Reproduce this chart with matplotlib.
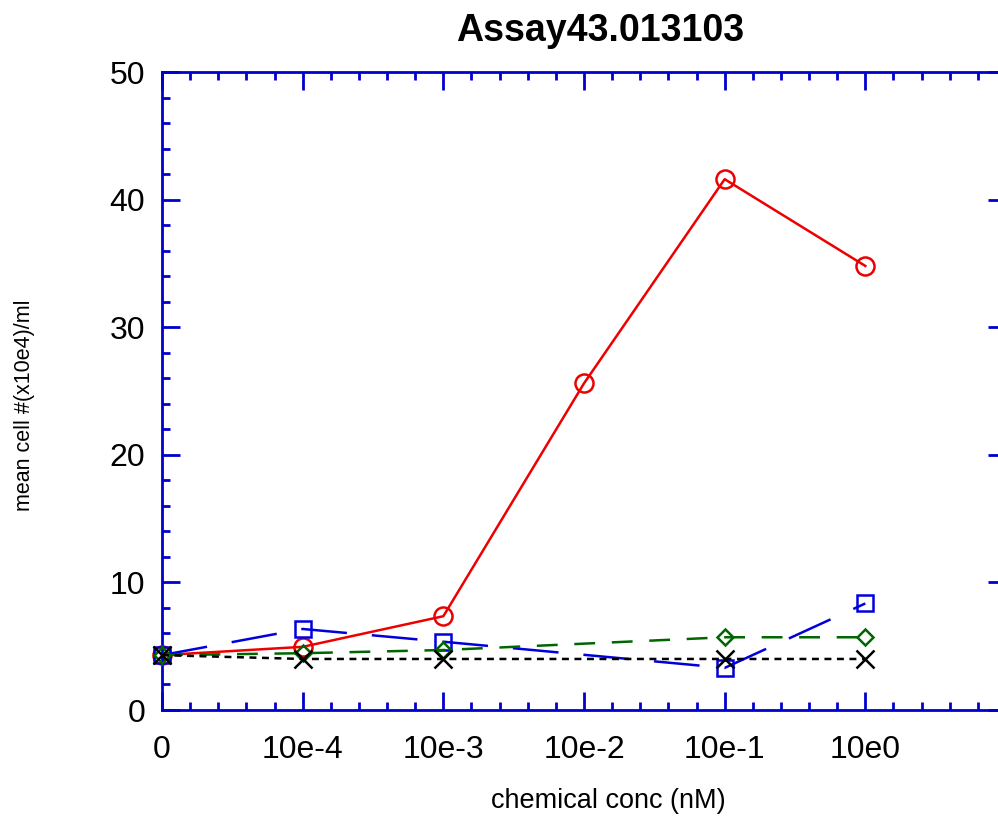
import numpy as np
import matplotlib
matplotlib.use("Agg")
import matplotlib.pyplot as plt
from matplotlib.ticker import MultipleLocator, FixedLocator

plt.rcParams["font.family"] = ["Liberation Sans", "DejaVu Sans"]
plt.rcParams["lines.scale_dashes"] = False

# -----------------------------
# Assay readings (mean cell count, x10e4 / ml)
# x positions are dose slots: 0, 10e-4, 10e-3, 10e-2, 10e-1, 10e0
# -----------------------------
tick_labels = ["0", "10e-4", "10e-3", "10e-2", "10e-1", "10e0"]

red_x = [0, 1, 2, 3, 4, 5]
red_y = [4.3, 4.95, 7.35, 25.6, 41.6, 34.8]

blue_x = [0, 1, 2, 4, 5]
blue_y = [4.3, 6.35, 5.35, 3.3, 8.35]

green_x = [0, 1, 2, 4, 5]
green_y = [4.3, 4.45, 4.7, 5.7, 5.7]

black_x = [0, 1, 2, 4, 5]
black_y = [4.3, 4.0, 4.0, 4.0, 4.0]

AXIS_BLUE = "#0000cc"

fig = plt.figure(figsize=(9.98, 8.18), dpi=100)
ax = fig.add_axes([162 / 998, 108 / 818, (1006 - 162) / 998, (710 - 72) / 818])

ax.plot(red_x, red_y, color="#ee0000", lw=1.8, marker="o", ms=13,
        mfc="none", mew=1.8, clip_on=False, zorder=3)
ax.plot(blue_x, blue_y, color="#0000dd", lw=1.8, dashes=(33, 18), marker="s",
        ms=11.5, mfc="none", mew=1.8, clip_on=False, zorder=3)
ax.plot(green_x, green_y, color="#006600", lw=1.8, dashes=(15, 12), marker="D",
        ms=8.5, mfc="none", mew=1.8, clip_on=False, zorder=3)
ax.plot(black_x, black_y, color="black", lw=1.8, dashes=(5, 4), marker="x",
        ms=12.5, mew=1.8, clip_on=False, zorder=4)

ax.set_xlim(0, 6)
ax.set_ylim(0, 50)

ax.xaxis.set_major_locator(FixedLocator(range(len(tick_labels))))
ax.set_xticklabels(tick_labels)
ax.xaxis.set_minor_locator(MultipleLocator(0.2))
ax.yaxis.set_major_locator(MultipleLocator(10))
ax.yaxis.set_minor_locator(MultipleLocator(2))

for s in ax.spines.values():
    s.set_color(AXIS_BLUE)
    s.set_linewidth(2)

ax.tick_params(which="both", direction="in", top=True, right=True,
               color=AXIS_BLUE, width=2, labelsize=23)
ax.tick_params(which="major", length=13)
ax.tick_params(which="minor", length=6)
ax.tick_params(axis="x", pad=18)
ax.tick_params(axis="y", pad=12)

fig.text(600 / 998, 1 - 31 / 818, "Assay43.013103", ha="center", va="center",
         fontsize=27, fontweight="bold")
fig.text(608 / 998, 1 - 801 / 818, "chemical conc (nM)", ha="center",
         va="center", fontsize=19.5)
fig.text(25 / 998, 1 - 405 / 818, "mean cell #(x10e4)/ml", ha="center",
         va="center", rotation=90, fontsize=15.5)

fig.savefig("out.png", dpi=100)
